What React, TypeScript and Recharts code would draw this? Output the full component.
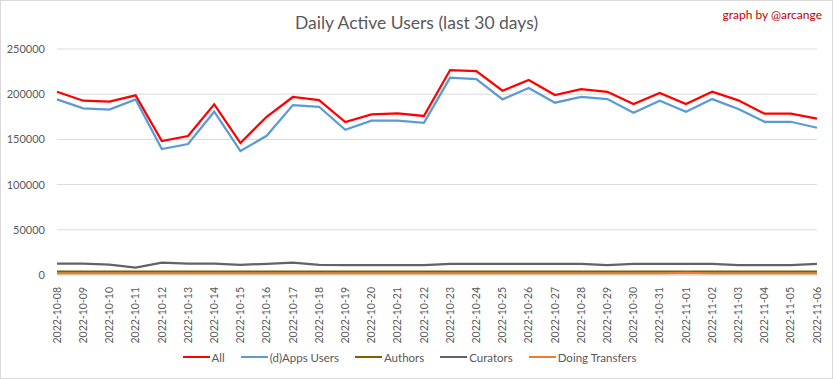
import React from "react";
import { LineChart, Line, XAxis, YAxis, CartesianGrid, Legend } from "recharts";

const dates = [
  "2022-10-08", "2022-10-09", "2022-10-10", "2022-10-11", "2022-10-12", "2022-10-13",
  "2022-10-14", "2022-10-15", "2022-10-16", "2022-10-17", "2022-10-18", "2022-10-19",
  "2022-10-20", "2022-10-21", "2022-10-22", "2022-10-23", "2022-10-24", "2022-10-25",
  "2022-10-26", "2022-10-27", "2022-10-28", "2022-10-29", "2022-10-30", "2022-10-31",
  "2022-11-01", "2022-11-02", "2022-11-03", "2022-11-04", "2022-11-05", "2022-11-06",
];
const allUsers = [
  202700, 192800, 191700, 198700, 148200, 153700, 188800, 146000, 175000, 196900,
  193500, 169200, 177700, 178800, 175900, 226700, 225600, 203800, 215700, 199100,
  205700, 202700, 189100, 201300, 189100, 202700, 193200, 178400, 178400, 172900,
];
const appsUsers = [
  194300, 184400, 182900, 194300, 139400, 144900, 180600, 137100, 154000, 188000,
  186100, 160700, 170700, 170700, 168400, 218200, 216800, 194300, 206800, 190600,
  196900, 194600, 179500, 192800, 180600, 194600, 183700, 169500, 169500, 162900,
];
const authors = [
  3700, 3700, 3700, 3600, 3700, 3700, 3700, 3700, 3700, 3700,
  3700, 3700, 3700, 3700, 3700, 3700, 3700, 3700, 3700, 3700,
  3700, 3700, 3700, 3700, 3700, 3700, 3700, 3700, 3700, 3700,
];
const curators = [
  12500, 12500, 11500, 8100, 13600, 12500, 12500, 11300, 12300, 13600,
  11200, 11000, 11000, 11000, 11000, 12200, 12200, 12200, 12200, 12200,
  12200, 11000, 12200, 12200, 12200, 12200, 10800, 10800, 10800, 12200,
];
const transfers = [
  1500, 1500, 1500, 1500, 1500, 1500, 1500, 1500, 1500, 1500,
  1500, 1500, 1500, 1500, 1500, 1500, 1500, 1500, 1500, 1500,
  1500, 1500, 1500, 1500, 2300, 1500, 1500, 1500, 1500, 1500,
];
const yTicks = [0, 50000, 100000, 150000, 200000, 250000];

const seriesDefs = [
  { key: "all", name: "All", color: "#ff0000" },
  { key: "apps", name: "(d)Apps Users", color: "#5b9bd5" },
  { key: "authors", name: "Authors", color: "#7f6000" },
  { key: "curators", name: "Curators", color: "#636363" },
  { key: "transfers", name: "Doing Transfers", color: "#ed7d31" },
];

const data = dates.map((d, i) => ({
  date: d,
  all: allUsers[i],
  apps: appsUsers[i],
  authors: authors[i],
  curators: curators[i],
  transfers: transfers[i],
}));

const FONT = "Lato, 'Liberation Sans', sans-serif";

const XTick = (props: any) => {
  const { x, y, payload } = props;
  return (
    <g transform={`translate(${x},${y})`}>
      <text
        transform="rotate(-90)"
        textAnchor="end"
        dy="0.35em"
        x={0}
        fill="#595959"
        fontSize={10.5}
        fontFamily={FONT}
      >
        {payload.value}
      </text>
    </g>
  );
};

const LegendContent = () => (
  <div
    style={{
      display: "flex",
      justifyContent: "center",
      alignItems: "center",
      height: 24,
      fontFamily: FONT,
      fontSize: 11.5,
      color: "#595959",
      paddingLeft: 18,
    }}
  >
    {seriesDefs.map((s) => (
      <div key={s.key} style={{ display: "flex", alignItems: "center", marginRight: 16 }}>
        <div style={{ width: 27, height: 2.5, background: s.color, marginRight: 2 }} />
        <span>{s.name}</span>
      </div>
    ))}
  </div>
);

export default function App() {
  return (
    <div style={{ position: "absolute", left: 0, top: 0, width: 833, height: 379, background: "#fff" }}>
      <LineChart
        width={833}
        height={379}
        data={data}
        margin={{ top: 49, right: 16, left: 0, bottom: 10 }}
      >
        <CartesianGrid vertical={false} stroke="#d9d9d9" strokeWidth={1} />
        <XAxis
          dataKey="date"
          interval={0}
          tick={<XTick />}
          tickLine={false}
          axisLine={{ stroke: "#d9d9d9" }}
          tickMargin={6}
          height={70}
        />
        <YAxis
          domain={[0, 250000]}
          ticks={yTicks}
          width={57}
          tickLine={false}
          axisLine={false}
          tickMargin={6}
          tick={{ fill: "#595959", fontSize: 11, fontFamily: FONT }}
        />
        <Legend verticalAlign="bottom" height={24} content={<LegendContent />} />
        {seriesDefs.map((s) => (
          <Line
            key={s.key}
            type="linear"
            dataKey={s.key}
            name={s.name}
            stroke={s.color}
            strokeWidth={2.25}
            dot={false}
            activeDot={false}
            isAnimationActive={false}
          />
        ))}
      </LineChart>
      <div
        style={{
          position: "absolute",
          left: 0,
          width: 833,
          top: 12,
          textAlign: "center",
          fontFamily: FONT,
          fontSize: 17.5,
          color: "#595959",
        }}
      >
        Daily Active Users (last 30 days)
      </div>
      <div
        style={{
          position: "absolute",
          right: 11,
          top: 7,
          fontFamily: FONT,
          fontSize: 12,
          color: "#c00000",
        }}
      >
        graph by @arcange
      </div>
      <div
        style={{
          position: "absolute",
          left: 0,
          top: 0,
          width: 833,
          height: 379,
          boxSizing: "border-box",
          border: "1px solid #d9d9d9",
          pointerEvents: "none",
        }}
      />
    </div>
  );
}
